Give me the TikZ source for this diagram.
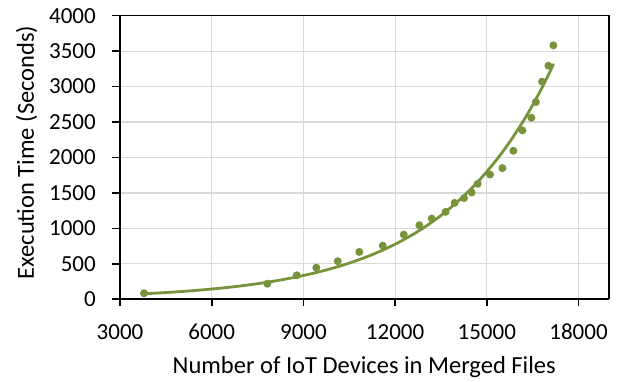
\documentclass[tikz,border=0pt]{standalone}
\usepackage{fontspec}
\setmainfont{Carlito}
\definecolor{olivec}{HTML}{77933C}
\definecolor{gridc}{HTML}{D9D9D9}
\begin{document}
\begin{tikzpicture}[
  font=\fontsize{23}{27}\selectfont,
  gridline/.style={draw=gridc, line width=1.2pt},
  axisline/.style={draw=black, line width=1.6pt},
  frameline/.style={draw=black, line width=1.2pt},
  datapt/.style={circle, fill=olivec, inner sep=0pt, minimum size=8pt},
  trend/.style={draw=olivec, line width=2.8pt, line cap=round},
  ticklab/.style={inner sep=0pt, text=black},
  axtitle/.style={inner sep=0pt, text=black, font=\fontsize{24.5}{28}\selectfont}
]
\useasboundingbox (0,0) rectangle (635pt,382pt);
\begin{scope}[shift={(28.3pt,82.7pt)}, x=30.567pt, y=70.9pt]
  % grid
  \foreach \g in {0.5,1,...,3.5} \draw[gridline] (3,\g) -- (19,\g);
  \foreach \g in {6,9,12,15,18} \draw[gridline] (\g,0) -- (\g,4);
  % frame
  \draw[frameline] (3,4) -- (19,4) -- (19,0);
  % axes
  \draw[axisline] (3,4) -- (3,0) -- (19,0);
  \foreach \g in {0,0.5,...,4} \draw[axisline] (3,\g) -- ++(-8pt,0);
  \foreach \g in {3,6,9,12,15,18} \draw[axisline] (\g,0) -- ++(0,-7pt);
  % y tick labels
  \foreach \g/\t in {0/0,0.5/500,1/1000,1.5/1500,2/2000,2.5/2500,3/3000,3.5/3500,4/4000}
    \node[ticklab, anchor=east] (yl\t) at (2.215,\g) {\t};
  % x tick labels
  \foreach \g/\t in {3/3000,6/6000,9/9000,12/12000,15/15000,18/18000}
    \node[ticklab, anchor=center] (xl\t) at (\g,-0.458) {\t};
  % trend line (exponential fit)
  \draw[trend] plot[domain=3.785:17.178, samples=90, smooth] (\x, {0.027*exp(0.28*\x)});
  % data points
  \foreach \x/\y [count=\i] in {3.785/0.085, 7.819/0.220, 8.781/0.339, 9.423/0.446,
     10.123/0.537, 10.830/0.668, 11.595/0.757, 12.283/0.913, 12.793/1.045,
     13.199/1.138, 13.653/1.233, 13.948/1.360, 14.255/1.427, 14.505/1.506,
     14.702/1.629, 15.106/1.760, 15.509/1.850, 15.869/2.095, 16.164/2.382,
     16.458/2.561, 16.602/2.782, 16.808/3.069, 17.015/3.295, 17.178/3.582}
    \node[datapt] (p\i) at (\x,\y) {};
\end{scope}
\node[axtitle] (xtitle) at (364.2pt,14.7pt) {Number of IoT Devices in Merged Files};
\node[axtitle, rotate=90] (ytitle) at (26.7pt,229.5pt) {Execution Time (Seconds)};
\end{tikzpicture}
\end{document}
